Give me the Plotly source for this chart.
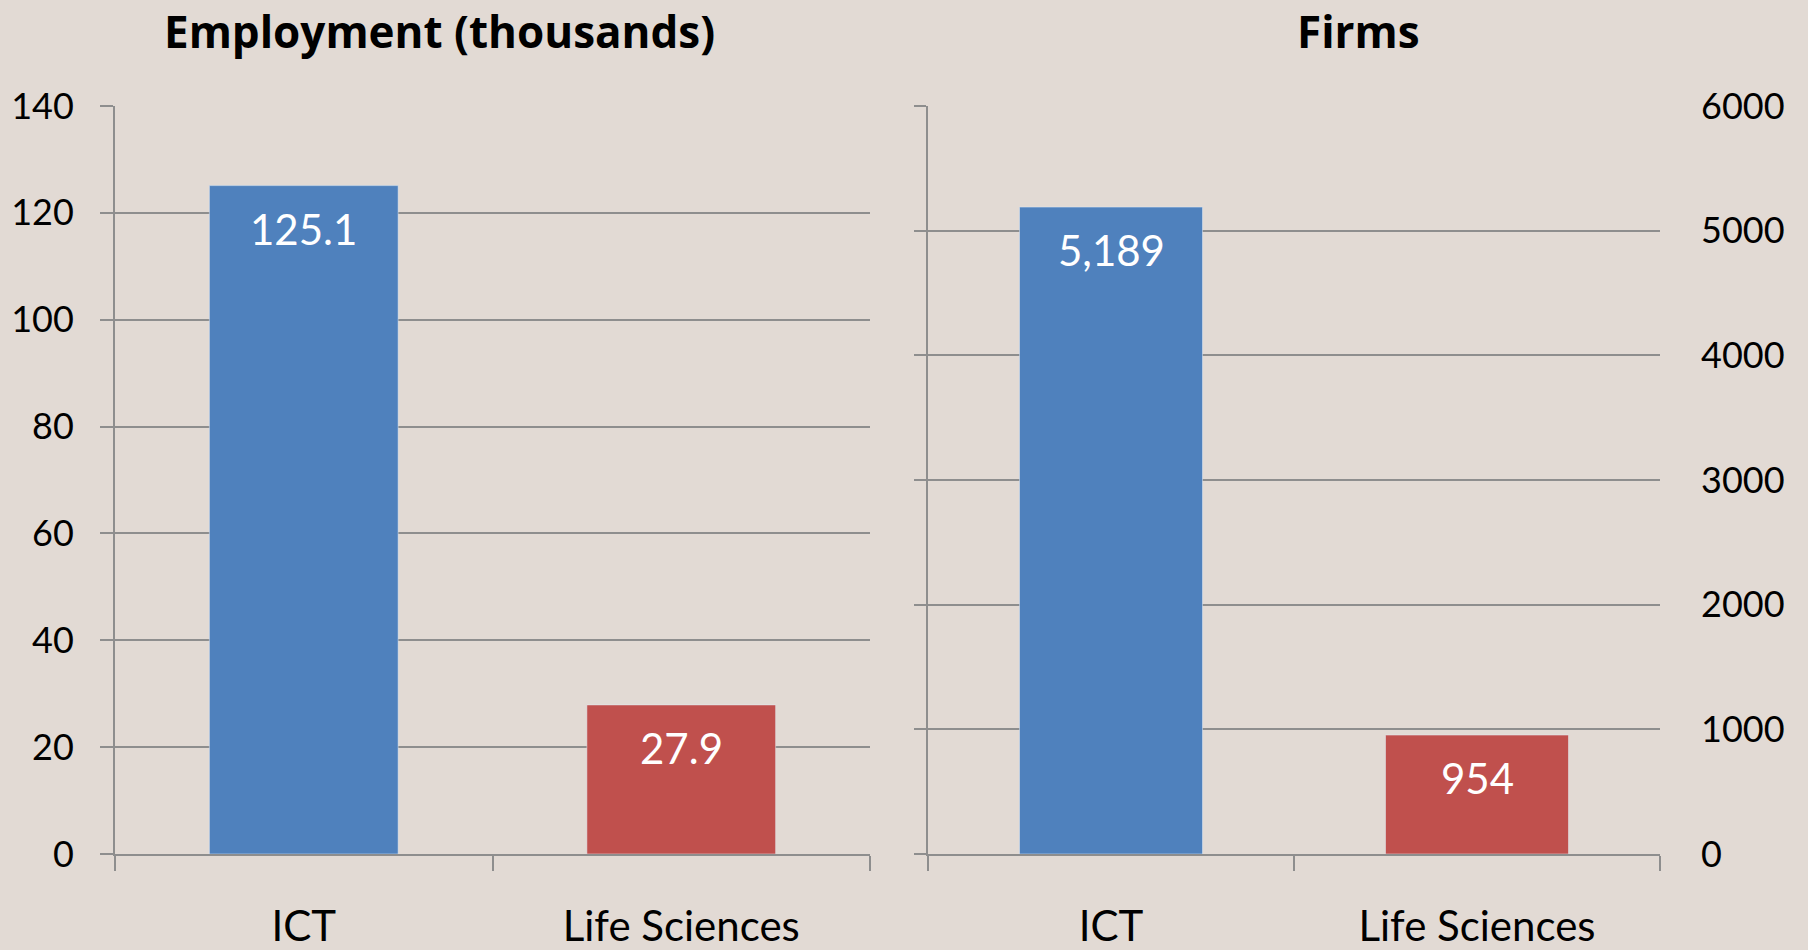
import plotly.graph_objects as go

categories = ["ICT", "Life Sciences"]
employment = [125.1, 27.9]
firms = [5189, 954]
bar_colors = ["#4f81bd", "#c0504d"]
emp_ticks = [0, 20, 40, 60, 80, 100, 120, 140]
firm_ticks = [0, 1000, 2000, 3000, 4000, 5000, 6000]

W, H = 1808, 950
BG = "#e2dad4"
GRID = "#8e8e8e"
FONT = "Lato"
TFONT = "Open Sans"

def px_x(p):
    return p / W

def px_y(p):
    return 1 - p / H

fig = go.Figure()
fig.add_trace(go.Bar(x=categories, y=employment, marker_color=bar_colors,
                     width=0.5, xaxis="x", yaxis="y", showlegend=False,
                     hoverinfo="skip"))
fig.add_trace(go.Bar(x=categories, y=firms, marker_color=bar_colors,
                     width=0.5, xaxis="x2", yaxis="y2", showlegend=False,
                     hoverinfo="skip"))
# invisible trace to activate the right-hand label axis
fig.add_trace(go.Scatter(x=categories, y=firms, xaxis="x2", yaxis="y3",
                         mode="markers", marker=dict(opacity=0),
                         showlegend=False, hoverinfo="skip"))

ydom = [px_y(854), px_y(106)]
xcommon = dict(showline=True, linecolor=GRID, linewidth=2, ticks="outside",
               tickson="boundaries", ticklen=15, tickcolor=GRID, tickwidth=2,
               showgrid=False, tickfont=dict(family=FONT, size=42, color="black"),
               ticklabelstandoff=35, automargin=False)

fig.update_layout(
    width=W, height=H,
    margin=dict(l=0, r=0, t=0, b=0, autoexpand=False),
    paper_bgcolor=BG, plot_bgcolor=BG,
    font=dict(family=FONT, color="black"),
    bargap=0.5,
    xaxis=dict(domain=[px_x(115), px_x(870)], anchor="y", **xcommon),
    xaxis2=dict(domain=[px_x(928), px_x(1660)], anchor="y2", **xcommon),
    yaxis=dict(domain=ydom, anchor="x", range=[0, 140], tickvals=emp_ticks,
               showline=True, linecolor=GRID, linewidth=2,
               ticks="outside", ticklen=13, tickcolor=GRID, tickwidth=2,
               showgrid=True, gridcolor=GRID, gridwidth=2, zeroline=False,
               tickfont=dict(family=FONT, size=36, color="black"),
               ticklabelstandoff=19, automargin=False),
    yaxis2=dict(domain=ydom, anchor="x2", range=[0, 6000], tickvals=firm_ticks,
                showline=True, linecolor=GRID, linewidth=2,
                ticks="outside", ticklen=12, tickcolor=GRID, tickwidth=2,
                showgrid=True, gridcolor=GRID, gridwidth=2, zeroline=False,
                showticklabels=False, automargin=False),
    yaxis3=dict(domain=ydom, anchor="x2", overlaying="y2", side="right",
                range=[0, 6000], tickvals=firm_ticks, showgrid=False,
                zeroline=False, showline=False, ticks="",
                tickfont=dict(family=FONT, size=36, color="black"),
                ticklabelstandoff=40, automargin=False),
)

annotations = []
for c, v in zip(categories, employment):
    annotations.append(dict(x=c, y=v, xref="x", yref="y", text=f"{v:.1f}",
                            showarrow=False, yshift=-43, yanchor="middle",
                            font=dict(family=FONT, size=42, color="white")))
for c, v in zip(categories, firms):
    annotations.append(dict(x=c, y=v, xref="x2", yref="y2", text=f"{v:,}",
                            showarrow=False, yshift=-43, yanchor="middle",
                            font=dict(family=FONT, size=42, color="white")))
annotations.append(dict(x=px_x(439), y=px_y(31), xref="paper", yref="paper",
                        text="<b>Employment (thousands)</b>", showarrow=False,
                        xanchor="center", yanchor="middle",
                        font=dict(family=TFONT, size=44, color="black")))
annotations.append(dict(x=px_x(1358), y=px_y(31), xref="paper", yref="paper",
                        text="<b>Firms</b>", showarrow=False,
                        xanchor="center", yanchor="middle",
                        font=dict(family=TFONT, size=44, color="black")))
fig.update_layout(annotations=annotations)

fig.write_html("out.html",
               config={"displayModeBar": False},
               post_script="document.body.style.margin='0px';"
                           "document.body.style.overflow='hidden';")
